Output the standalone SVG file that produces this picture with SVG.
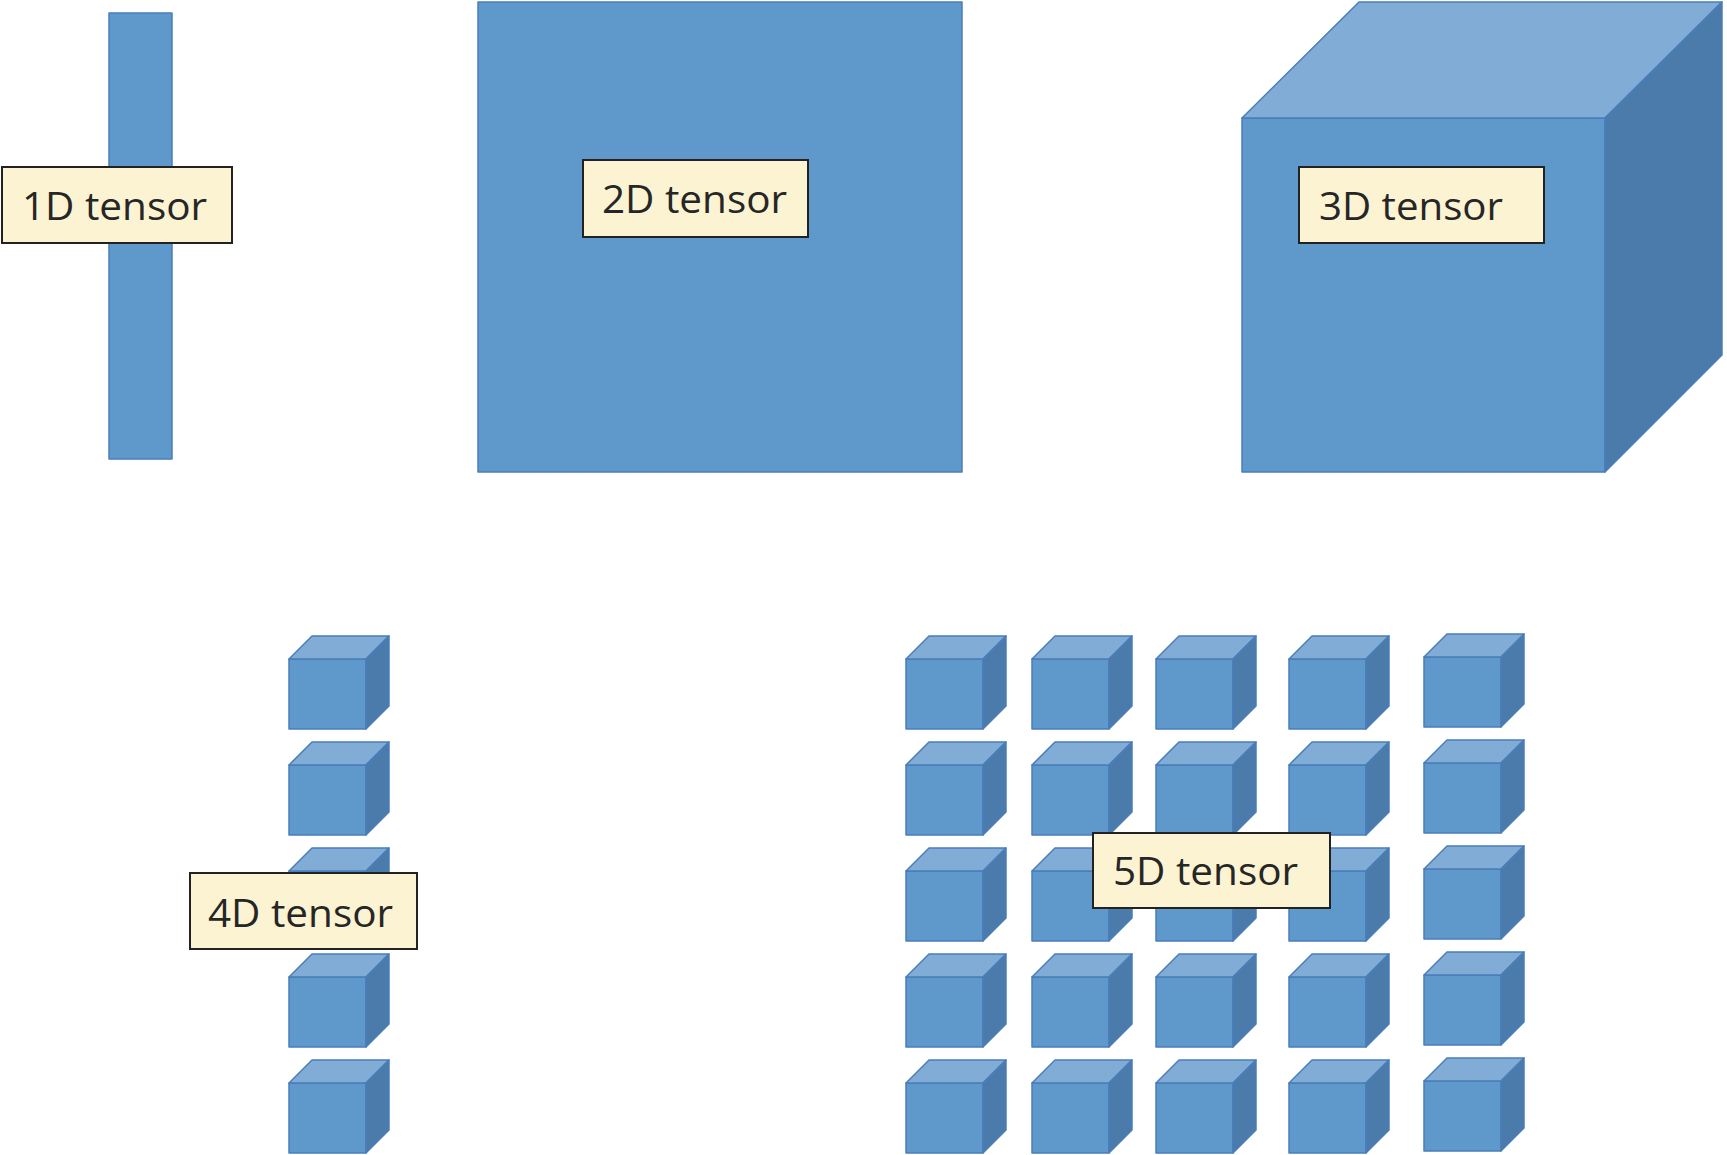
<svg xmlns="http://www.w3.org/2000/svg" xmlns:xlink="http://www.w3.org/1999/xlink" width="1727" height="1155" viewBox="0 0 1727 1155">
  <style>
    .front { fill: #5F98CA; stroke: #4A7EBB; stroke-width: 1.5; stroke-linejoin: round; }
    .top { fill: #80ACD6; stroke: #4A7EBB; stroke-width: 1.5; stroke-linejoin: round; }
    .side { fill: #4A7BAB; stroke: #4A7EBB; stroke-width: 1.5; stroke-linejoin: round; }
    .label rect { fill: #FCF3D2; stroke: #222222; stroke-width: 2; }
    .label text { font-family: "Open Sans", "Noto Sans", "Liberation Sans", sans-serif; font-size: 39px; fill: #262626; }
  </style>
  <defs>
    <g id="cube">
      <rect class="front" x="0" y="0" width="77" height="70"/>
      <polygon class="top" points="0,0 23,-23 100,-23 77,0"/>
      <polygon class="side" points="77,0 100,-23 100,47 77,70"/>
    </g>
  </defs>
  <rect x="0" y="0" width="1727" height="1155" fill="#FFFFFF"/>

  <g id="connectors"/>

  <g id="tensor1d">
    <rect class="front" x="109" y="13" width="63" height="446"/>
    <g class="label">
      <rect x="2" y="167" width="230" height="76"/>
      <text x="22" y="220" textLength="185" lengthAdjust="spacingAndGlyphs">1D tensor</text>
    </g>
  </g>

  <g id="tensor2d">
    <rect class="front" x="478" y="2" width="484" height="470"/>
    <g class="label">
      <rect x="583" y="160" width="225" height="77"/>
      <text x="602" y="213" textLength="185" lengthAdjust="spacingAndGlyphs">2D tensor</text>
    </g>
  </g>

  <g id="tensor3d">
    <rect class="front" x="1242" y="118" width="363" height="354"/>
    <polygon class="top" points="1242,118 1359,2 1722,2 1605,118"/>
    <polygon class="side" points="1605,118 1722,2 1722,355 1605,472"/>
    <g class="label">
      <rect x="1299" y="167" width="245" height="76"/>
      <text x="1319" y="220" textLength="184" lengthAdjust="spacingAndGlyphs">3D tensor</text>
    </g>
  </g>

  <g id="tensor4d">
    <use xlink:href="#cube" x="289" y="659"/>
    <use xlink:href="#cube" x="289" y="765"/>
    <use xlink:href="#cube" x="289" y="871"/>
    <use xlink:href="#cube" x="289" y="977"/>
    <use xlink:href="#cube" x="289" y="1083"/>
    <g class="label">
      <rect x="190" y="873" width="227" height="76"/>
      <text x="208" y="927" textLength="185" lengthAdjust="spacingAndGlyphs">4D tensor</text>
    </g>
  </g>

  <g id="tensor5d">
    <use xlink:href="#cube" x="906" y="659"/>
    <use xlink:href="#cube" x="1032" y="659"/>
    <use xlink:href="#cube" x="1156" y="659"/>
    <use xlink:href="#cube" x="1289" y="659"/>
    <use xlink:href="#cube" x="1424" y="657"/>

    <use xlink:href="#cube" x="906" y="765"/>
    <use xlink:href="#cube" x="1032" y="765"/>
    <use xlink:href="#cube" x="1156" y="765"/>
    <use xlink:href="#cube" x="1289" y="765"/>
    <use xlink:href="#cube" x="1424" y="763"/>

    <use xlink:href="#cube" x="906" y="871"/>
    <use xlink:href="#cube" x="1032" y="871"/>
    <use xlink:href="#cube" x="1156" y="871"/>
    <use xlink:href="#cube" x="1289" y="871"/>
    <use xlink:href="#cube" x="1424" y="869"/>

    <use xlink:href="#cube" x="906" y="977"/>
    <use xlink:href="#cube" x="1032" y="977"/>
    <use xlink:href="#cube" x="1156" y="977"/>
    <use xlink:href="#cube" x="1289" y="977"/>
    <use xlink:href="#cube" x="1424" y="975"/>

    <use xlink:href="#cube" x="906" y="1083"/>
    <use xlink:href="#cube" x="1032" y="1083"/>
    <use xlink:href="#cube" x="1156" y="1083"/>
    <use xlink:href="#cube" x="1289" y="1083"/>
    <use xlink:href="#cube" x="1424" y="1081"/>
    <g class="label">
      <rect x="1093" y="833" width="237" height="75"/>
      <text x="1113" y="885" textLength="185" lengthAdjust="spacingAndGlyphs">5D tensor</text>
    </g>
  </g>
</svg>
